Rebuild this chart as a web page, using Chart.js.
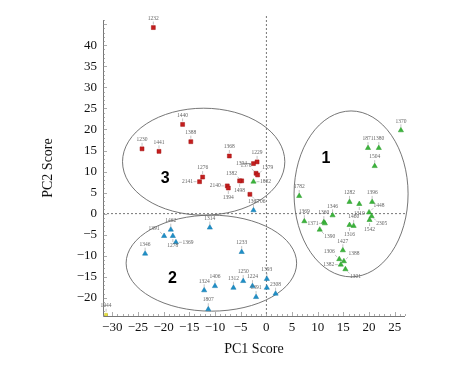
<!DOCTYPE html>
<html><head><meta charset="utf-8">
<script src="https://cdn.jsdelivr.net/npm/chart.js@4/dist/chart.umd.min.js"></script>
<style>html,body{margin:0;padding:0;background:#fff}#wrap{width:464px;height:378px}</style>
</head><body><div id="wrap"><canvas id="c" width="464" height="378"></canvas></div>
<script>
// ---- data ----
const xTicks = [-30,-25,-20,-15,-10,-5,0,5,10,15,20,25];
const yTicks = [-20,-15,-10,-5,0,5,10,15,20,25,30,35,40];

const redLabels = ['1232','1440','1388','1230','1441','1368','1229','1394','1378','1379','1276','2141','1382','1498','2140','1394','1706'];
const redX = [-22.0,-16.3,-14.7,-24.2,-20.9,-7.2,-1.8,-2.5,-2.0,-1.7,-12.4,-13.0,-4.8,-5.2,-7.6,-7.4,-3.2];
const redY = [44.2,21.2,17.1,15.4,14.8,13.7,12.3,11.9,9.6,9.2,8.7,7.6,7.8,7.8,6.6,6.1,4.6];

const greenLabels = ['1370','1871','1380','1504','1782','1282','1396','1310','1448','2305','1542','1346','1369','1360','1371','1390','1460','1316','1427','1306','1388','1382','1301','1802'];
const greenX = [26.2,19.8,21.9,21.1,6.4,16.2,20.6,18.1,20.0,20.5,20.1,12.9,7.4,11.2,11.4,10.4,17.0,16.2,14.9,14.2,15.1,14.5,15.4,-2.5];
const greenY = [19.8,15.6,15.6,11.3,4.2,2.8,2.8,2.3,0.3,-0.6,-1.5,-0.4,-1.8,-2.0,-2.3,-3.8,-2.9,-2.7,-8.7,-10.8,-11.3,-12.1,-13.2,7.6];

const blueLabels = ['1367','1462','1391','1278','1369','1314','1346','1233','1250','1406','1312','1224','1393','1324','1391','','2308','1807'];
const blueX = [-2.5,-18.6,-19.9,-18.2,-17.6,-11.0,-23.6,-4.8,-4.5,-10.0,-6.4,-2.7,0.1,-12.1,-2.0,0.1,1.8,-11.3];
const blueY = [0.8,-3.8,-5.3,-5.3,-6.8,-3.3,-9.5,-9.1,-16.0,-17.2,-17.6,-17.2,-15.5,-18.2,-19.8,-17.6,-19.0,-22.7];

const yellowLabels = ['1444'];
const yellowX = [-31.2];
const yellowY = [-24.0];

// cluster regions (data units): name, centre x, centre y, radius x, radius y
const clusterNames = ['1','2','3'];
const clusterCx = [16.5,-10.7,-12.2];
const clusterCy = [4.7,-11.75,12.35];
const clusterRx = [11.1,16.6,15.8];
const clusterRy = [19.7,11.4,12.7];
const clusterTagX = [11.6,-18.3,-19.7];
const clusterTagY = [13.2,-15.4,8.4];

function pts(xs, ys, ls){ return xs.map((x,i)=>({x:x, y:ys[i], label:ls[i]})); }

// label placement (dataset index : point index -> side), default is above
const labelSide = {
  '0:7':'l', '0:8':'tl', '0:9':'tr', '0:11':'l', '0:12':'tl', '0:13':'b', '0:14':'l', '0:15':'b', '0:16':'br',
  '1:7':'b', '1:8':'tr', '1:9':'br', '1:10':'b', '1:15':'br', '1:17':'b', '1:13':'t', '1:14':'l', '1:21':'l', '1:22':'br', '1:20':'tr', '1:19':'tl', '1:23':'r',
  '2:2':'tl', '2:3':'b', '2:4':'r'
};

const serif = '"Liberation Serif","DejaVu Serif",serif';

const decor = {
  id:'decor',
  beforeDatasetsDraw(chart){
    const {ctx, chartArea:a, scales:{x, y}} = chart;
    ctx.save();
    ctx.strokeStyle = '#555'; ctx.lineWidth = 0.8; ctx.setLineDash([2,2]);
    const x0 = x.getPixelForValue(0), y0 = y.getPixelForValue(0);
    ctx.beginPath(); ctx.moveTo(x0, a.top-4); ctx.lineTo(x0, a.bottom); ctx.stroke();
    ctx.beginPath(); ctx.moveTo(a.left, y0); ctx.lineTo(a.right, y0); ctx.stroke();
    ctx.setLineDash([]);
    ctx.strokeStyle = '#777'; ctx.lineWidth = 1;
    ctx.beginPath(); ctx.moveTo(a.left+0.5, a.top); ctx.lineTo(a.left+0.5, a.bottom+0.5); ctx.lineTo(a.right, a.bottom+0.5); ctx.stroke();
    ctx.strokeStyle = '#888'; ctx.lineWidth = 0.7;
    for (let v = Math.ceil(x.min); v <= x.max; v++) {
      const p = Math.round(x.getPixelForValue(v))+0.5;
      const len = (v % 5 === 0) ? 4 : 2;
      ctx.beginPath(); ctx.moveTo(p, a.bottom); ctx.lineTo(p, a.bottom-len); ctx.stroke();
    }
    for (let v = Math.ceil(y.min); v <= y.max; v++) {
      const p = Math.round(y.getPixelForValue(v))+0.5;
      const len = (v % 5 === 0) ? 4 : 2;
      ctx.beginPath(); ctx.moveTo(a.left, p); ctx.lineTo(a.left+len, p); ctx.stroke();
    }
    ctx.strokeStyle = '#666'; ctx.lineWidth = 0.9;
    for (let i=0;i<clusterNames.length;i++){
      const cx = x.getPixelForValue(clusterCx[i]), cy = y.getPixelForValue(clusterCy[i]);
      const rx = Math.abs(x.getPixelForValue(clusterCx[i]+clusterRx[i]) - cx);
      const ry = Math.abs(y.getPixelForValue(clusterCy[i]+clusterRy[i]) - cy);
      ctx.beginPath(); ctx.ellipse(cx, cy, rx, ry, 0, 0, Math.PI*2); ctx.stroke();
    }
    ctx.fillStyle = '#000'; ctx.font = 'bold 16px "Liberation Sans","DejaVu Sans",sans-serif';
    ctx.textAlign = 'center'; ctx.textBaseline = 'middle';
    for (let i=0;i<clusterNames.length;i++){
      ctx.fillText(clusterNames[i], x.getPixelForValue(clusterTagX[i]), y.getPixelForValue(clusterTagY[i]));
    }
    ctx.restore();
  },
  afterDatasetsDraw(chart){
    const {ctx} = chart;
    ctx.save();
    ctx.font = '5.5px ' + serif; ctx.fillStyle = '#666'; ctx.strokeStyle = '#999'; ctx.lineWidth = 0.6;
    chart.data.datasets.forEach((ds, di) => {
      const meta = chart.getDatasetMeta(di);
      meta.data.forEach((el, i) => {
        const lab = ds.data[i].label; if (!lab) return;
        const side = labelSide[di+':'+i] || 't';
        let dx = 0, dy = -1, ax = 'center', bl = 'bottom';
        if (side === 'b') { dy = 1; bl = 'top'; }
        else if (side === 'l') { dx = -1; dy = 0; ax = 'right'; bl = 'middle'; }
        else if (side === 'r') { dx = 1; dy = 0; ax = 'left'; bl = 'middle'; }
        else if (side === 'tl') { dx = -0.7; dy = -0.7; ax = 'right'; bl = 'bottom'; }
        else if (side === 'tr') { dx = 0.7; dy = -0.7; ax = 'left'; bl = 'bottom'; }
        else if (side === 'br') { dx = 0.7; dy = 0.7; ax = 'left'; bl = 'top'; }
        ctx.beginPath(); ctx.moveTo(el.x+dx*3, el.y+dy*3); ctx.lineTo(el.x+dx*6, el.y+dy*6); ctx.stroke();
        ctx.textAlign = ax; ctx.textBaseline = bl;
        ctx.fillText(lab, el.x+dx*6.5, el.y+dy*6.5);
      });
    });
    ctx.restore();
  }
};

const minusFmt = v => String(v).replace('-', '\u2212');

new Chart(document.getElementById('c'), {
  type: 'scatter',
  data: { datasets: [
    { label:'3', data: pts(redX, redY, redLabels), pointStyle:'rect', pointRadius:2.8, backgroundColor:'#c41e1e', borderColor:'#a01010', borderWidth:0.5 },
    { label:'1', data: pts(greenX, greenY, greenLabels), pointStyle:'triangle', pointRadius:3, backgroundColor:'#3cb43c', borderColor:'#2a9a2a', borderWidth:0.5 },
    { label:'2', data: pts(blueX, blueY, blueLabels), pointStyle:'triangle', pointRadius:3, backgroundColor:'#1e8fc8', borderColor:'#1478aa', borderWidth:0.5 },
    { label:'0', data: pts(yellowX, yellowY, yellowLabels), pointStyle:'rect', pointRadius:2, backgroundColor:'#e8e040', borderColor:'#c8c020', borderWidth:0.5 }
  ]},
  options: {
    responsive:false, animation:false, devicePixelRatio:1,
    layout:{ padding:{ left:0, top:20, right:59, bottom:0 } },
    plugins:{ legend:{display:false}, tooltip:{enabled:false} },
    scales:{
      x:{ type:'linear', min:-31.8, max:27,
        afterBuildTicks: s => { s.ticks = xTicks.map(v=>({value:v})); },
        afterFit: s => { s.height = 62; },
        grid:{ display:false, drawTicks:false }, border:{ display:false },
        ticks:{ color:'#111', font:{ family:serif, size:13 }, padding:4, maxRotation:0, autoSkip:false, callback: v => minusFmt(v) },
        title:{ display:true, text:'PC1 Score', color:'#111', font:{ family:serif, size:14 }, padding:{ top:0, bottom:20 } }
      },
      y:{ type:'linear', min:-24.3, max:46,
        afterBuildTicks: s => { s.ticks = yTicks.map(v=>({value:v})); },
        afterFit: s => { s.width = 103; },
        grid:{ display:false, drawTicks:false }, border:{ display:false },
        ticks:{ color:'#111', font:{ family:serif, size:13 }, padding:6, autoSkip:false, callback: v => minusFmt(v) },
        title:{ display:true, text:'PC2 Score', color:'#111', font:{ family:serif, size:14 }, padding:{ top:40, bottom:0 } }
      }
    }
  },
  plugins:[decor]
});
</script></body></html>
